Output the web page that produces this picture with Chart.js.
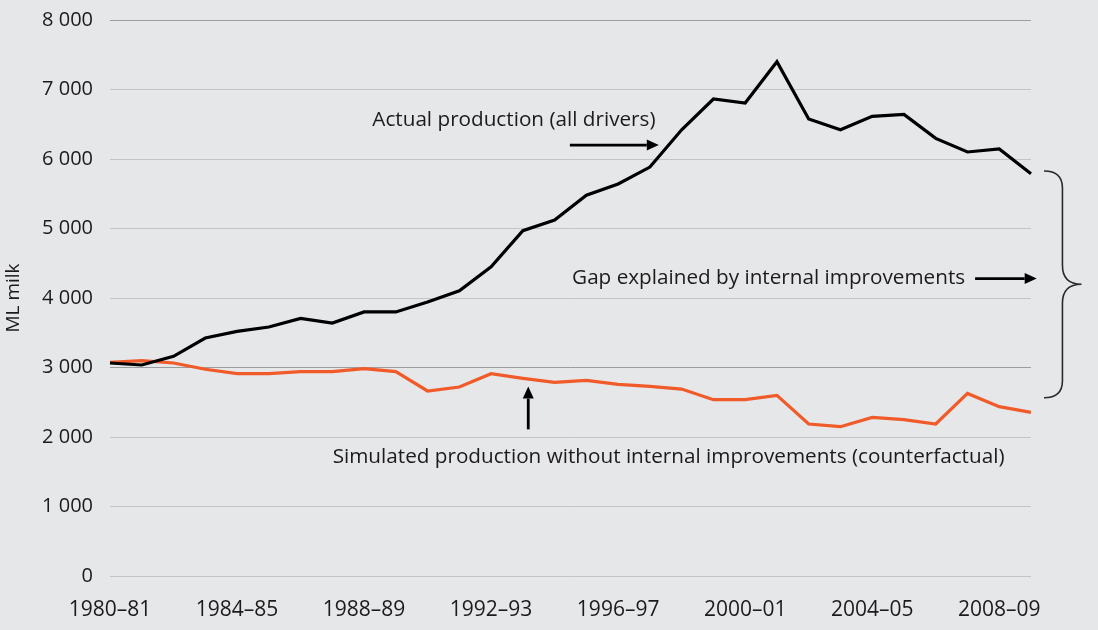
<!DOCTYPE html>
<html>
<head>
<meta charset="utf-8">
<script src="https://cdn.jsdelivr.net/npm/chart.js@4/dist/chart.umd.min.js"></script>
<style>
  html, body { margin: 0; padding: 0; background: #e6e7e8; }
  #wrap { width: 1098px; height: 630px; }
</style>
</head>
<body>
<div id="wrap"><canvas id="c" width="1098" height="630"></canvas></div>
<script>
// ---- Data ----
const categories = [
  "1980–81","1981–82","1982–83","1983–84","1984–85","1985–86","1986–87","1987–88",
  "1988–89","1989–90","1990–91","1991–92","1992–93","1993–94","1994–95","1995–96",
  "1996–97","1997–98","1998–99","1999–00","2000–01","2001–02","2002–03","2003–04",
  "2004–05","2005–06","2006–07","2007–08","2008–09","2009–10"
];
const actualProduction = [
  3065, 3036, 3160, 3424, 3520, 3583, 3707, 3640, 3799, 3799,
  3942, 4105, 4450, 4968, 5122, 5480, 5640, 5884, 6420, 6863,
  6806, 7400, 6576, 6422, 6614, 6642, 6297, 6101, 6144, 5788
];
const simulatedProduction = [
  3074, 3098, 3065, 2975, 2911, 2911, 2940, 2940, 2983, 2940,
  2662, 2719, 2911, 2843, 2785, 2815, 2757, 2728, 2690, 2537,
  2537, 2599, 2187, 2148, 2282, 2249, 2187, 2627, 2436, 2354
];
const yTickValues = [0, 1000, 2000, 3000, 4000, 5000, 6000, 7000, 8000];
const yTickLabels = ["0", "1 000", "2 000", "3 000", "4 000", "5 000", "6 000", "7 000", "8 000"];
const xLabelEvery = 4;
const yAxisTitle = "ML milk";
const annotationTexts = {
  actual: "Actual production (all drivers)",
  gap: "Gap explained by internal improvements",
  simulated: "Simulated production without internal improvements (counterfactual)"
};

const FONT = '"Open Sans", "Noto Sans", sans-serif';
const TEXT = '#1c1a1b';

function arrow(ctx, x1, y1, x2, y2) {
  const ang = Math.atan2(y2 - y1, x2 - x1);
  const hl = 12, hw = 5.5;
  const bx = x2 - hl * Math.cos(ang), by = y2 - hl * Math.sin(ang);
  ctx.beginPath();
  ctx.moveTo(x1, y1);
  ctx.lineTo(bx, by);
  ctx.lineWidth = 2.8;
  ctx.strokeStyle = '#000';
  ctx.stroke();
  ctx.beginPath();
  ctx.moveTo(x2, y2);
  ctx.lineTo(bx + hw * Math.sin(ang), by - hw * Math.cos(ang));
  ctx.lineTo(bx - hw * Math.sin(ang), by + hw * Math.cos(ang));
  ctx.closePath();
  ctx.fillStyle = '#000';
  ctx.fill();
}

const annotationPlugin = {
  id: 'annotations',
  afterDatasetsDraw(chart) {
    const ctx = chart.ctx;
    const xs = chart.scales.x, ys = chart.scales.y;
    const X = v => xs.getPixelForValue(v);
    const Y = v => ys.getPixelForValue(v);
    ctx.save();
    ctx.font = '20.7px ' + FONT;
    ctx.fillStyle = TEXT;
    ctx.textBaseline = 'middle';
    ctx.textAlign = 'left';
    ctx.fillText(annotationTexts.actual, X(8.26), Y(6561));
    ctx.fillText(annotationTexts.gap, X(14.55), Y(4288));
    ctx.fillText(annotationTexts.simulated, X(7.01), Y(1716));

    arrow(ctx, X(14.48), Y(6201), X(17.28), Y(6201));
    arrow(ctx, X(27.24), Y(4280), X(29.18), Y(4280));
    arrow(ctx, X(13.17), Y(2110), X(13.17), Y(2725));

    // curly brace
    const x0 = X(29.41), xv = X(29.99), xt = X(30.59);
    const yt = Y(5827), ym = Y(4197), yb = Y(2565);
    ctx.beginPath();
    ctx.moveTo(x0, yt);
    ctx.quadraticCurveTo(xv, yt, xv, yt + 17);
    ctx.lineTo(xv, ym - 19);
    ctx.quadraticCurveTo(xv, ym, xt, ym);
    ctx.quadraticCurveTo(xv, ym, xv, ym + 19);
    ctx.lineTo(xv, yb - 17);
    ctx.quadraticCurveTo(xv, yb, x0, yb);
    ctx.lineWidth = 1.6;
    ctx.strokeStyle = '#2b292a';
    ctx.stroke();
    ctx.restore();
  }
};

new Chart(document.getElementById('c'), {
  type: 'line',
  data: {
    labels: categories,
    datasets: [
      {
        label: 'Actual production (all drivers)',
        data: actualProduction,
        borderColor: '#000000',
        borderWidth: 3.2,
        pointRadius: 0,
        tension: 0,
        fill: false
      },
      {
        label: 'Simulated production without internal improvements (counterfactual)',
        data: simulatedProduction,
        borderColor: '#f15a29',
        borderWidth: 3.2,
        pointRadius: 0,
        tension: 0,
        fill: false
      }
    ]
  },
  options: {
    responsive: false,
    devicePixelRatio: 1,
    animation: false,
    events: [],
    layout: { padding: { top: 20, right: 67, left: 0, bottom: 0 } },
    plugins: {
      legend: { display: false },
      tooltip: { enabled: false },
      title: { display: false }
    },
    scales: {
      x: {
        type: 'category',
        offset: false,
        grid: { display: false, drawTicks: false },
        border: { display: false },
        ticks: {
          autoSkip: false,
          maxRotation: 0,
          minRotation: 0,
          padding: 21,
          color: TEXT,
          font: { family: FONT, size: 21 },
          callback: (v, i) => (i % xLabelEvery === 0 ? categories[i] : '')
        },
        afterFit: s => { s.height = 54; }
      },
      y: {
        min: 0,
        max: 8000,
        afterBuildTicks: s => { s.ticks = yTickValues.map(v => ({ value: v })); },
        grid: {
          drawTicks: false,
          lineWidth: 1,
          color: ctx => (ctx.tick && (ctx.tick.value === 3000 || ctx.tick.value === 8000)) ? '#9c9c9e' : '#c3c4c6'
        },
        border: { display: false },
        ticks: {
          padding: 17,
          color: TEXT,
          font: { family: FONT, size: 20 },
          callback: v => yTickLabels[yTickValues.indexOf(v)]
        },
        title: {
          display: true,
          text: yAxisTitle,
          color: TEXT,
          font: { family: FONT, size: 19 },
          padding: { top: 2, bottom: 0 }
        },
        afterFit: s => { s.width = 110; s.paddingTop = 0; s.paddingBottom = 0; }
      }
    }
  },
  plugins: [annotationPlugin]
});
</script>
</body>
</html>
